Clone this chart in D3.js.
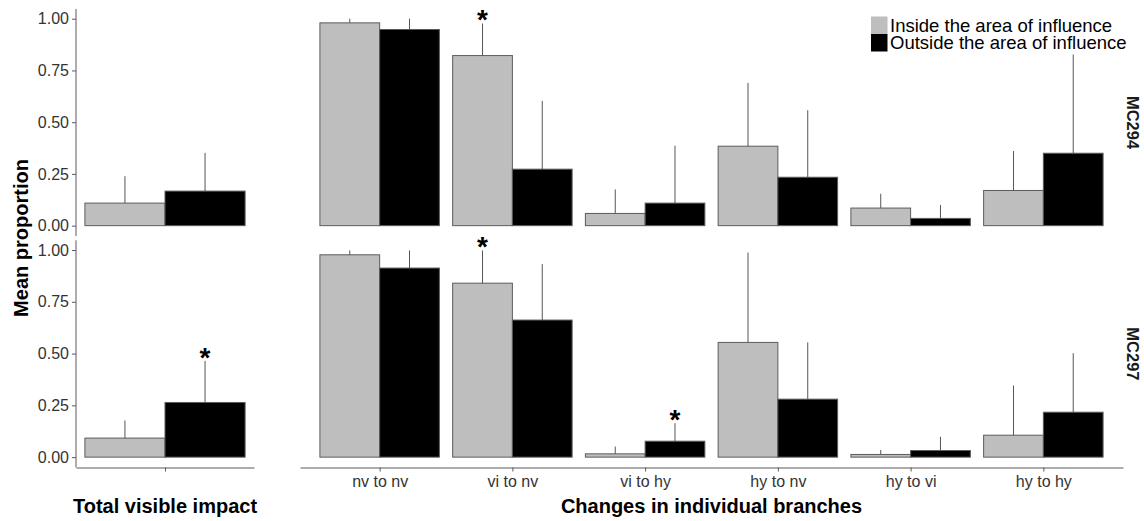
<!DOCTYPE html>
<html>
<head>
<meta charset="utf-8">
<script src="https://cdn.jsdelivr.net/npm/d3@7"></script>
<style>
  html, body { margin: 0; padding: 0; background: #fff; }
  svg { display: block; font-family: "Liberation Sans", Arial, sans-serif; }
</style>
</head>
<body>
<svg id="chart" width="1144" height="521"></svg>
<script>
// ---- data ----
const sites = ["MC294", "MC297"];
const groups = ["Inside the area of influence", "Outside the area of influence"];
const totalLabel = ["Total visible impact"];
const categories = ["nv to nv", "vi to nv", "vi to hy", "hy to nv", "hy to vi", "hy to hy"];
const yTicks = [0, 0.25, 0.5, 0.75, 1];

// total visible impact, per site [MC294, MC297]
const totalInside      = [0.109, 0.092];
const totalInsideUpper = [0.239, 0.177];
const totalOutside     = [0.167, 0.264];
const totalOutsideUpper= [0.352, 0.465];

// changes in individual branches
const mc294Inside       = [0.980, 0.822, 0.059, 0.384, 0.085, 0.170];
const mc294InsideUpper  = [1.000, 0.977, 0.175, 0.690, 0.154, 0.361];
const mc294Outside      = [0.948, 0.273, 0.109, 0.234, 0.035, 0.350];
const mc294OutsideUpper = [1.000, 0.603, 0.386, 0.558, 0.100, 0.830];
const mc297Inside       = [0.977, 0.840, 0.016, 0.554, 0.013, 0.106];
const mc297InsideUpper  = [0.998, 0.998, 0.051, 0.988, 0.035, 0.346];
const mc297Outside      = [0.913, 0.662, 0.077, 0.280, 0.032, 0.217];
const mc297OutsideUpper = [0.998, 0.932, 0.164, 0.554, 0.098, 0.502];

// significant differences marked with an asterisk
const significant = [
  { site: "MC294", category: "vi to nv", group: groups[0] },
  { site: "MC297", category: "vi to nv", group: groups[0] },
  { site: "MC297", category: "vi to hy", group: groups[1] },
  { site: "MC297", category: "Total visible impact", group: groups[1] }
];

// ---- build rows ----
const rows = [];
sites.forEach((s, si) => {
  rows.push({ site: s, panel: "total", category: totalLabel[0], group: groups[0], value: totalInside[si], upper: totalInsideUpper[si] });
  rows.push({ site: s, panel: "total", category: totalLabel[0], group: groups[1], value: totalOutside[si], upper: totalOutsideUpper[si] });
});
const branchData = {
  MC294: [[mc294Inside, mc294InsideUpper], [mc294Outside, mc294OutsideUpper]],
  MC297: [[mc297Inside, mc297InsideUpper], [mc297Outside, mc297OutsideUpper]]
};
sites.forEach(s => {
  categories.forEach((c, ci) => {
    groups.forEach((g, gi) => {
      rows.push({ site: s, panel: "branch", category: c, group: g,
                  value: branchData[s][gi][0][ci], upper: branchData[s][gi][1][ci] });
    });
  });
});

// ---- layout ----
const svg = d3.select("#chart");
const fill = d3.scaleOrdinal().domain(groups).range(["#bebebe", "#000000"]);

const rowBox = { MC294: [9, 236], MC297: [240.3, 467.5] };
const y = {};
sites.forEach(s => {
  y[s] = d3.scaleLinear().domain([-0.05, 1.047]).range([rowBox[s][1], rowBox[s][0]]);
});

const xPanels = {
  total:  d3.scalePoint().domain(totalLabel).range([76, 254]).padding(0.5),
  branch: d3.scalePoint().domain(categories).range([300, 1123]).padding(0.6)
};
const xInner = {};
Object.keys(xPanels).forEach(k => {
  const step = xPanels[k].step();
  xInner[k] = d3.scaleBand().domain(groups).range([-0.45 * step, 0.45 * step]);
});
const xMid = d => xPanels[d.panel](d.category) + xInner[d.panel](d.group) + xInner[d.panel].bandwidth() / 2;

const axisColor = "#5a5a5a";
const textColor = "#333333";

// ---- bars ----
const barG = svg.append("g");
barG.selectAll("rect.bar").data(rows).join("rect")
  .attr("class", "bar")
  .attr("x", d => xPanels[d.panel](d.category) + xInner[d.panel](d.group))
  .attr("width", d => xInner[d.panel].bandwidth())
  .attr("y", d => y[d.site](d.value))
  .attr("height", d => y[d.site](0) - y[d.site](d.value))
  .attr("fill", d => fill(d.group))
  .attr("stroke", "#5c5c5c")
  .attr("stroke-width", 1);

// upper error bars (no caps)
barG.selectAll("line.err").data(rows).join("line")
  .attr("class", "err")
  .attr("x1", xMid)
  .attr("x2", xMid)
  .attr("y1", d => y[d.site](d.value))
  .attr("y2", d => y[d.site](d.upper))
  .attr("stroke", "#555")
  .attr("stroke-width", 1);

// asterisks
const sigRows = significant.map(m => rows.find(r => r.site === m.site && r.category === m.category && r.group === m.group));
barG.selectAll("text.sig").data(sigRows).join("text")
  .attr("class", "sig")
  .attr("x", xMid)
  .attr("y", d => y[d.site](d.upper) + 6)
  .attr("text-anchor", "middle")
  .attr("font-size", 28)
  .attr("font-weight", "bold")
  .attr("fill", "#000")
  .text("*");

// ---- axes ----
sites.forEach(s => {
  const ax = svg.append("g").attr("transform", "translate(76,0)")
    .call(d3.axisLeft(y[s]).tickValues(yTicks).tickFormat(d3.format(".2f")).tickSize(4).tickPadding(3));
  ax.select(".domain").attr("d", `M0,${rowBox[s][0]}V${rowBox[s][1]}`).attr("stroke", axisColor);
  ax.selectAll(".tick line").attr("stroke", axisColor);
  ax.selectAll(".tick text").attr("font-size", 16).attr("fill", textColor)
    .attr("font-family", "'Liberation Sans', Arial, sans-serif");
});

Object.keys(xPanels).forEach(k => {
  const sc = xPanels[k];
  const ax = svg.append("g").attr("transform", `translate(0,${rowBox.MC297[1]})`)
    .call(d3.axisBottom(sc).tickSize(4).tickPadding(4).tickSizeOuter(0));
  ax.select(".domain").attr("stroke", axisColor);
  ax.selectAll(".tick line").attr("stroke", axisColor);
  ax.selectAll(".tick text").attr("font-size", 16).attr("fill", textColor)
    .attr("font-family", "'Liberation Sans', Arial, sans-serif");
  if (k === "total") ax.selectAll(".tick text").remove();
});

// ---- titles ----
svg.append("text")
  .attr("x", 165).attr("y", 513)
  .attr("text-anchor", "middle").attr("font-size", 20).attr("font-weight", "bold").attr("fill", "#000")
  .text("Total visible impact");
svg.append("text")
  .attr("x", 711.5).attr("y", 513)
  .attr("text-anchor", "middle").attr("font-size", 20).attr("font-weight", "bold").attr("fill", "#000")
  .text("Changes in individual branches");
svg.append("text")
  .attr("transform", "translate(28,238) rotate(-90)")
  .attr("text-anchor", "middle").attr("font-size", 20).attr("font-weight", "bold").attr("fill", "#000")
  .text("Mean proportion");

// facet strip labels
sites.forEach(s => {
  const cy = (rowBox[s][0] + rowBox[s][1]) / 2;
  svg.append("text")
    .attr("transform", `translate(1126.5,${cy}) rotate(90)`)
    .attr("text-anchor", "middle").attr("font-size", 16.5).attr("font-weight", "bold").attr("fill", "#1a1a1a")
    .text(s);
});

// ---- legend ----
const leg = svg.append("g").attr("transform", "translate(871,16.5)");
leg.append("rect").attr("x", -3).attr("y", -3).attr("width", 262).attr("height", 41).attr("fill", "#fff");
groups.forEach((g, i) => {
  leg.append("rect").attr("x", 0).attr("y", i * 17.5).attr("width", 16.5).attr("height", 17.5)
    .attr("fill", fill(g));
  leg.append("text").attr("x", 19).attr("y", i * 17.5 + 15)
    .attr("font-size", 18.5).attr("fill", "#000").text(g);
});
</script>
</body>
</html>
